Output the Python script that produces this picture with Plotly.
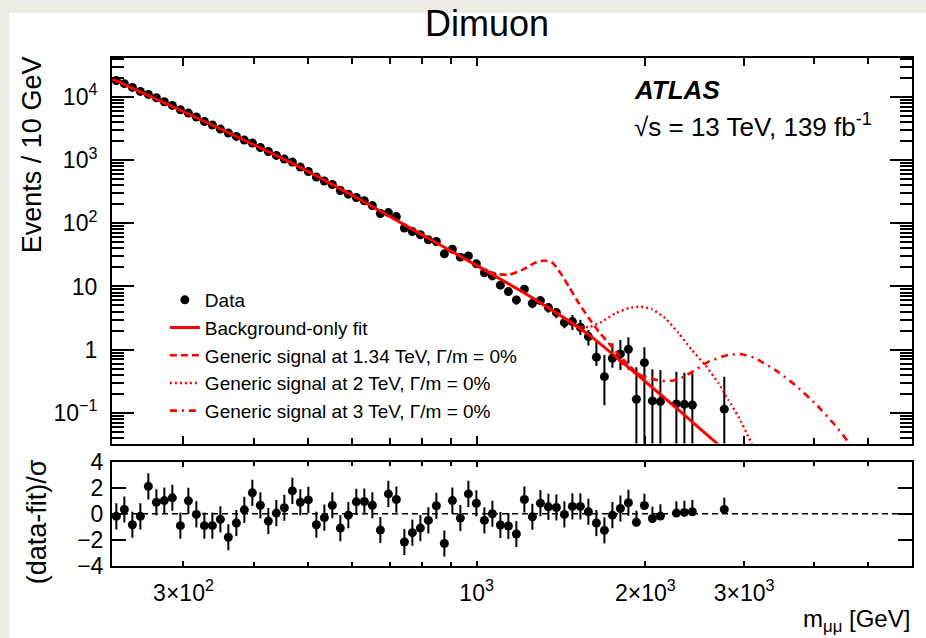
import plotly.graph_objects as go

# ---------------- data ----------------
mass = [227.7, 235.3, 243.2, 251.3, 259.7, 268.4, 277.3, 286.6, 296.2, 306.1,
        316.3, 326.9, 337.8, 349.1, 360.7, 372.8, 385.2, 398.1, 411.4, 425.1,
        439.3, 454.0, 469.2, 484.8, 501.0, 517.8, 535.1, 552.9, 571.4, 590.5,
        610.2, 630.6, 651.7, 673.5, 696.0, 719.2, 743.3, 768.1, 793.8, 820.3,
        847.7, 876.0, 905.3, 935.5, 966.8, 999.1, 1032.5, 1067.0, 1102.6, 1139.5,
        1177.5, 1216.9, 1257.5, 1299.6, 1343.0, 1387.8, 1434.2, 1482.1, 1531.6, 1582.8,
        1635.7, 1690.4, 1746.8, 1805.2, 1865.5, 1927.8, 1992.2, 2058.8, 2127.6, 2272.0,
        2348.0, 2426.0, 2766.0]

events = [18300, 16260, 14190, 12270, 10990, 9750, 8430, 7360, 6300, 5570,
          4820, 4100, 3600, 3110, 2690, 2380, 2080, 1870, 1590, 1370,
          1190, 1040, 933, 778, 662, 540, 467, 412, 331, 290,
          256, 228, 191, 143, 148, 128, 84, 74, 66, 54.8,
          51.5, 32.9, 39.0, 29.1, 30.5, 22.8, 16.5, 14.7, 10.5, 8.30,
          6.13, 9.06, 5.43, 5.98, 4.63, 3.86, 2.68, 2.78, 2.26, 1.61,
          0.758, 0.373, 0.731, 0.855, 1.01, 0.164, 0.622, 0.154, 0.150, 0.138,
          0.136, 0.133, 0.114]

events_err_up = [157, 145, 135, 125, 115, 108, 100, 92, 85, 78,
                 72, 66, 61, 56, 52, 48, 44, 41, 37, 34,
                 31, 29, 27, 24, 22, 19, 18, 16, 14, 13,
                 11, 10.5, 9.5, 8, 8, 7.3, 5.8, 5.4, 5, 4.4,
                 4.2, 3.3, 3.5, 3.0, 3.0, 2.6, 1.5, 1.4, 1.2, 1.1,
                 1.0, 1.1, 0.9, 0.9, 0.8, 0.67, 0.47, 0.77, 0.70, 0.44,
                 0.67, 0.45, 0.53, 0.57, 0.56, 0.362, 0.47, 0.335, 0.327, 0.31,
                 0.296, 0.29, 0.259]

events_err_dn = [157, 145, 135, 125, 115, 108, 100, 92, 85, 78,
                 72, 66, 61, 56, 52, 48, 44, 41, 37, 34,
                 31, 29, 27, 24, 22, 19, 18, 16, 14, 13,
                 11, 10.5, 9.5, 8, 8, 7.3, 5.8, 5.4, 5, 4.4,
                 4.2, 3.3, 3.5, 3.0, 3.0, 2.6, 1.5, 1.4, 1.2, 1.1,
                 1.0, 1.1, 0.9, 0.9, 0.8, 0.72, 0.50, 0.73, 0.55, 0.45,
                 0.21, 0.242, 0.213, 0.378, 0.40, 0.134, 0.592, 0.124, 0.120, 0.108,
                 0.106, 0.103, 0.084]

resid = [-0.20, 0.33, -0.84, -0.20, 2.10, 0.88, 1.01, 1.22, -0.91, 0.99,
         -0.05, -0.91, -0.91, -0.43, -1.80, -0.71, 0.30, 1.60, 0.65, -0.56,
         0.05, 0.46, 1.75, 0.88, 1.06, -0.84, -0.30, 0.65, -1.10, -0.11,
         0.91, 0.94, 0.65, -1.25, 1.52, 1.09, -2.16, -1.45, -1.10, -0.51,
         0.61, -2.28, 1.01, -0.33, 1.52, 0.80, -0.51, 0.00, -0.86, -0.94,
         -1.55, 1.09, -0.23, 0.81, 0.53, 0.48, -0.05, 0.56, 0.56, 0.15,
         -0.71, -1.27, -0.11, 0.40, 0.84, -0.66, 0.63, -0.36, -0.18, 0.05,
         0.10, 0.15, 0.33]

resid_err_up = [1.0] * 65 + [0.9, 0.9, 0.9, 0.9, 0.9, 0.9, 0.9, 0.9]
resid_err_dn = [1.0] * 65 + [0.3, 0.3, 0.3, 0.3, 0.2, 0.2, 0.2, 0.2]

fit_mass = [224.0, 320.8, 483.3, 618.0, 790.3, 1010.3, 1291.7, 1586.1, 1945.4, 2292.5, 2682.6, 2931.0]
fit_events = [19290, 4449, 777.6, 240.1, 69.9, 20.4, 5.70, 1.710, 0.383, 0.1108, 0.0329, 0.0172]

sig134_mass = [1010.3, 1039.7, 1081.7, 1142.4, 1206.4, 1274.5, 1318.6, 1364.2, 1411.9, 1460.8,
               1521.9, 1586.1, 1651.5, 1720.6, 1792.6, 1867.5, 1919.4, 1972.3, 2027.2]
sig134_events = [20.4, 17.87, 15.84, 15.27, 18.33, 23.92, 25.73, 23.92, 16.25, 9.96,
                 5.436, 3.145, 1.929, 1.263, 0.824, 0.572, 0.448, 0.383, 0.331]

sig2_mass = [1402.6, 1491.0, 1586.1, 1674.0, 1769.0, 1867.5, 1959.4, 2055.0, 2171.0, 2292.5,
             2421.0, 2557.0, 2701.0, 2814.0, 2931.0, 3054.0, 3117.0]
sig2_events = [3.52, 2.46, 2.265, 2.778, 3.775, 4.531, 4.803, 4.368, 3.145, 1.819,
               0.989, 0.572, 0.2935, 0.1596, 0.0867, 0.0418, 0.0287]

sig3_mass = [1792.6, 1890.6, 2041.4, 2140.7, 2246.0, 2340.0, 2455.0, 2593.0, 2814.0, 2971.0,
             3140.0, 3407.0, 3698.0, 4014.0, 4358.0, 4601.0, 4754.0]
sig3_events = [0.687, 0.455, 0.352, 0.319, 0.325, 0.369, 0.477, 0.645, 0.824, 0.846,
               0.731, 0.477, 0.276, 0.1414, 0.0641, 0.0348, 0.0239]

x_tickvals = [300, 1000, 2000, 3000]
x_ticktext = ["3×10<sup>2</sup>", "10<sup>3</sup>", "2×10<sup>3</sup>", "3×10<sup>3</sup>"]
x_minor = [400, 500, 600, 700, 800, 900, 4000, 5000]
y_tickvals = [0.1, 1, 10, 100, 1000, 10000]
y_ticktext = ["10<sup>−1</sup>", "1", "10", "10<sup>2</sup>", "10<sup>3</sup>", "10<sup>4</sup>"]
y_minor = [0.04, 0.05, 0.06, 0.07, 0.08, 0.09,
           0.2, 0.3, 0.4, 0.5, 0.6, 0.7, 0.8, 0.9,
           2, 3, 4, 5, 6, 7, 8, 9,
           20, 30, 40, 50, 60, 70, 80, 90,
           200, 300, 400, 500, 600, 700, 800, 900,
           2000, 3000, 4000, 5000, 6000, 7000, 8000, 9000,
           20000, 30000, 40000]
r_tickvals = [-4, -2, 0, 2, 4]
r_ticktext = ["−4", "−2", "0", "2", "4"]

# ---------------- figure ----------------
FONT = "Liberation Sans, Arial, Helvetica, sans-serif"
RED = "#ff0000"
W, H = 926, 638
L, R, T, B = 112, 12, 58, 72
PW, PH = W - L - R, H - T - B


def px(xp):
    return (xp - L) / PW


def py(yp):
    return (H - B - yp) / PH


fig = go.Figure()

fig.add_trace(go.Scatter(
    x=mass, y=events, mode="markers", name="Data", legendrank=1,
    marker=dict(color="black", size=9),
    error_y=dict(type="data", symmetric=False, array=events_err_up,
                 arrayminus=events_err_dn, width=0, thickness=2, color="black"),
    xaxis="x", yaxis="y"))

fig.add_trace(go.Scatter(
    x=sig134_mass, y=sig134_events, mode="lines", legendrank=3,
    name="Generic signal at 1.34 TeV, Γ/m = 0%",
    line=dict(color=RED, width=2.6, dash="7px,4px", shape="spline", smoothing=0.5),
    xaxis="x", yaxis="y"))

fig.add_trace(go.Scatter(
    x=sig2_mass, y=sig2_events, mode="lines", legendrank=4,
    name="Generic signal at 2 TeV, Γ/m = 0%",
    line=dict(color=RED, width=2.4, dash="2px,3px", shape="spline", smoothing=0.5),
    xaxis="x", yaxis="y"))

fig.add_trace(go.Scatter(
    x=sig3_mass, y=sig3_events, mode="lines", legendrank=5,
    name="Generic signal at 3 TeV, Γ/m = 0%",
    line=dict(color=RED, width=2.6, dash="7px,5px,2px,5px", shape="spline", smoothing=0.5),
    xaxis="x", yaxis="y"))

fig.add_trace(go.Scatter(
    x=fit_mass, y=fit_events, mode="lines", legendrank=2,
    name="Background-only fit",
    line=dict(color=RED, width=3, shape="spline", smoothing=0.6),
    xaxis="x", yaxis="y"))

fig.add_trace(go.Scatter(
    x=mass, y=resid, mode="markers", showlegend=False,
    marker=dict(color="black", size=9),
    error_y=dict(type="data", symmetric=False, array=resid_err_up,
                 arrayminus=resid_err_dn, width=0, thickness=2, color="black"),
    xaxis="x2", yaxis="y2"))

xrange = [2.3496, 3.7767]
common_x = dict(type="log", range=xrange, showline=True, linecolor="black", linewidth=2,
                mirror="ticks", ticks="inside", tickcolor="black", tickwidth=1.5,
                showgrid=False, zeroline=False, tickmode="array",
                tickvals=x_tickvals, ticktext=x_ticktext)

fig.update_layout(
    width=W, height=H,
    margin=dict(l=L, r=R, t=T, b=B),
    paper_bgcolor="#eeebe5", plot_bgcolor="white",
    font=dict(family=FONT, color="black"),
    showlegend=True,
    legend=dict(x=px(165), y=py(281), xanchor="left", yanchor="top",
                bgcolor="rgba(0,0,0,0)", borderwidth=0,
                font=dict(size=19, family=FONT), traceorder="normal",
                itemwidth=30),
    xaxis=dict(common_x, anchor="y", domain=[0, 1], ticklen=8, showticklabels=False,
               minor=dict(tickvals=x_minor, ticks="inside", ticklen=6,
                          tickcolor="black", tickwidth=1.5)),
    xaxis2=dict(common_x, anchor="y2", domain=[0, 1], ticklen=5, showticklabels=True,
                tickfont=dict(size=23, family=FONT), ticklabelstandoff=5,
                minor=dict(tickvals=x_minor, ticks="inside", ticklen=4,
                           tickcolor="black", tickwidth=1.5)),
    yaxis=dict(type="log", domain=[py(443.5), 1], range=[-1.4865, 4.618], anchor="x",
               showline=True, linecolor="black", linewidth=2, mirror="ticks",
               ticks="inside", ticklen=22, tickcolor="black", tickwidth=1.5,
               tickmode="array", tickvals=y_tickvals, ticktext=y_ticktext,
               tickfont=dict(size=23, family=FONT), ticklabelstandoff=8,
               showgrid=False, zeroline=False,
               minor=dict(tickvals=y_minor, ticks="inside", ticklen=12,
                          tickcolor="black", tickwidth=1.5)),
    yaxis2=dict(domain=[0, py(461.5)], range=[-4, 4], anchor="x2",
                showline=True, linecolor="black", linewidth=2, mirror="ticks",
                ticks="inside", ticklen=14, tickcolor="black", tickwidth=1.5,
                tickmode="array", tickvals=r_tickvals, ticktext=r_ticktext,
                tickfont=dict(size=23, family=FONT), ticklabelstandoff=2,
                showgrid=False, zeroline=False),
    shapes=[
        dict(type="rect", xref="paper", yref="paper", layer="below",
             x0=px(9), x1=px(W + 2), y0=py(H + 2), y1=py(13),
             fillcolor="white", line=dict(width=0)),
        dict(type="line", xref="x2 domain", yref="y2", x0=0, x1=1, y0=0, y1=0,
             line=dict(color="black", width=1.5, dash="6px,4px")),
    ],
    annotations=[
        dict(text="Dimuon", x=px(488), y=py(24), xref="paper", yref="paper",
             xanchor="center", yanchor="middle", showarrow=False,
             font=dict(size=36, family=FONT)),
        dict(text="<b><i>ATLAS</i></b>", x=px(633), y=py(90), xref="paper", yref="paper",
             xanchor="left", yanchor="middle", showarrow=False,
             font=dict(size=26, family=FONT)),
        dict(text="√s = 13 TeV, 139 fb<sup>-1</sup>", x=px(633), y=py(126),
             xref="paper", yref="paper", xanchor="left", yanchor="middle",
             showarrow=False, font=dict(size=26, family=FONT)),
        dict(text="Events / 10 GeV", x=px(32), y=py(155), xref="paper", yref="paper",
             xanchor="center", yanchor="middle", textangle=-90, showarrow=False,
             font=dict(size=27, family=FONT)),
        dict(text="(data-fit)/σ", x=px(37), y=py(522), xref="paper", yref="paper",
             xanchor="center", yanchor="middle", textangle=-90, showarrow=False,
             font=dict(size=27, family=FONT)),
        dict(text="m<sub>μμ</sub> [GeV]", x=px(914), y=py(620), xref="paper", yref="paper",
             xanchor="right", yanchor="middle", showarrow=False,
             font=dict(size=24, family=FONT)),
    ],
)

fig.write_html("out.html")
